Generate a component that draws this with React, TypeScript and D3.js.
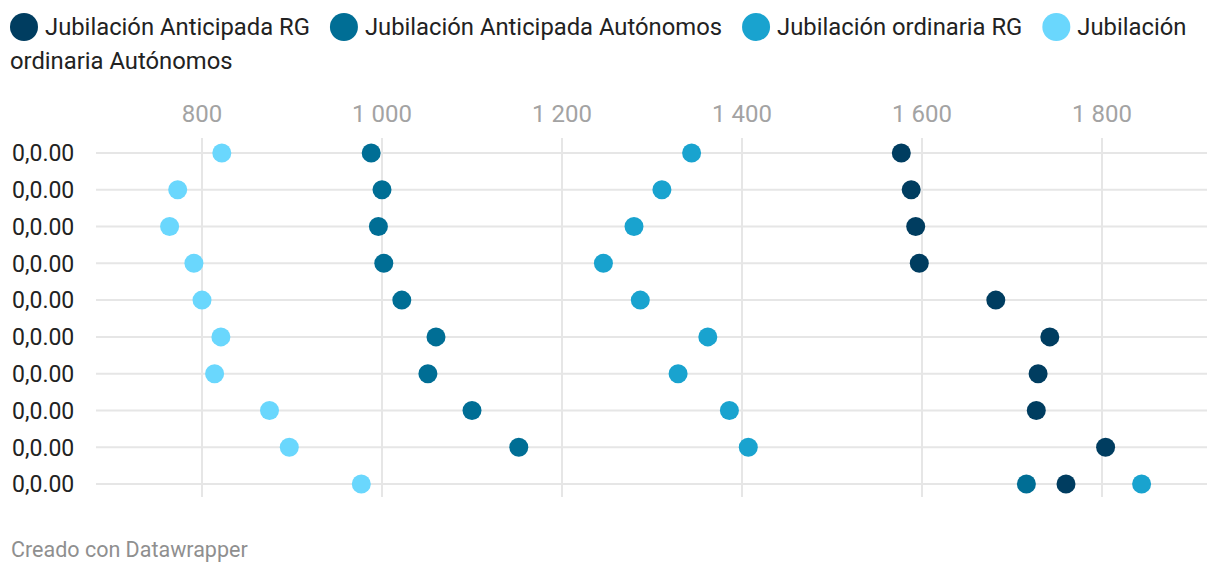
import React, { useEffect, useRef } from 'react'
import * as d3 from 'd3'

// series names and colours
const seriesNames = [
  'Jubilación Anticipada RG',
  'Jubilación Anticipada Autónomos',
  'Jubilación ordinaria RG',
  'Jubilación ordinaria Autónomos',
]
const seriesColors = ['#003d60', '#006e95', '#19a3cf', '#6ad7fd']

// row labels (all the same in the source)
const rowLabels = [
  '0,0.00', '0,0.00', '0,0.00', '0,0.00', '0,0.00',
  '0,0.00', '0,0.00', '0,0.00', '0,0.00', '0,0.00',
]

const anticipadaRG = [1577, 1588, 1593, 1597, 1682, 1742, 1729, 1727, 1804, 1760]
const anticipadaAut = [988, 1000, 996, 1002, 1022, 1060, 1051, 1100, 1152, 1716]
const ordinariaRG = [1344, 1311, 1280, 1246, 1287, 1362, 1329, 1386, 1407, 1844]
const ordinariaAut = [822, 773, 764, 791, 800, 821, 814, 875, 897, 977]

const tickValues = [800, 1000, 1200, 1400, 1600, 1800]

const W = 1220
const H = 576
const FONT = 'Roboto, sans-serif'

function draw(node: SVGSVGElement) {
  const svg = d3.select(node)
  svg.selectAll('*').remove()

  const series = [anticipadaRG, anticipadaAut, ordinariaRG, ordinariaAut]

  // x scale pinned on the gridlines of the reference
  const x = d3.scaleLinear().domain([800, 1800]).range([202, 1102])
  const gridLeft = 96
  const gridRight = 1207

  const y = d3.scalePoint<number>()
    .domain(d3.range(rowLabels.length))
    .range([153, 484])

  const fmt = d3.formatLocale({ decimal: ',', thousands: ' ', grouping: [3], currency: ['', ''] }).format(',d')

  // legend (flowed, wraps words)
  const legendSize = 23.8
  const legend = svg.append('g').attr('class', 'legend')
  let lx = 10
  let lineBase = 35
  const lineH = 34
  const maxX = 1212
  const measure = (s: string) => {
    const t = legend.append('text')
      .attr('font-family', FONT).attr('font-size', legendSize)
      .text(s)
    const wd = (t.node() as SVGTextElement).getComputedTextLength()
    t.remove()
    return wd
  }
  seriesNames.forEach((name, i) => {
    if (lx + 28 > maxX) { lx = 10; lineBase += lineH }
    legend.append('circle')
      .attr('cx', lx + 14).attr('cy', lineBase - 8).attr('r', 14)
      .attr('fill', seriesColors[i])
    lx += 35
    const words = name.split(' ')
    let line = ''
    let startX = lx
    words.forEach((w) => {
      const trial = line ? line + ' ' + w : w
      if (startX + measure(trial) > maxX && line) {
        legend.append('text')
          .attr('x', startX).attr('y', lineBase)
          .attr('font-family', FONT).attr('font-size', legendSize).attr('fill', '#222')
          .text(line)
        lineBase += lineH
        startX = 10
        line = w
      } else {
        line = trial
      }
    })
    legend.append('text')
      .attr('x', startX).attr('y', lineBase)
      .attr('font-family', FONT).attr('font-size', legendSize).attr('fill', '#222')
      .text(line)
    lx = startX + measure(line) + 20
  })

  // vertical gridlines
  svg.append('g')
    .selectAll('line')
    .data(tickValues).enter().append('line')
      .attr('x1', d => x(d)).attr('x2', d => x(d))
      .attr('y1', 138).attr('y2', 497)
      .attr('stroke', '#e6e6e6').attr('stroke-width', 2)

  // tick labels
  svg.append('g')
    .selectAll('text')
    .data(tickValues).enter().append('text')
      .attr('x', d => x(d)).attr('y', 122)
      .attr('text-anchor', 'middle')
      .attr('font-family', FONT).attr('font-size', 24)
      .attr('fill', '#a3a3a3')
      .text(d => fmt(d))

  // horizontal row lines
  svg.append('g')
    .selectAll('line')
    .data(rowLabels).enter().append('line')
      .attr('x1', gridLeft).attr('x2', gridRight)
      .attr('y1', (d, i) => y(i)!).attr('y2', (d, i) => y(i)!)
      .attr('stroke', '#e6e6e6').attr('stroke-width', 2)

  // row labels
  svg.append('g')
    .selectAll('text')
    .data(rowLabels).enter().append('text')
      .attr('x', 12).attr('y', (d, i) => y(i)!)
      .attr('dy', '0.36em')
      .attr('font-family', FONT).attr('font-size', 23)
      .attr('fill', '#222')
      .text(d => d)

  // dots, last series drawn first
  const order = [3, 2, 1, 0]
  order.forEach((s) => {
    svg.append('g')
      .selectAll('circle')
      .data(series[s]).enter().append('circle')
        .attr('cx', d => x(d)).attr('cy', (d, i) => y(i)!)
        .attr('r', 9.5)
        .attr('fill', seriesColors[s])
  })

  svg.append('text')
    .attr('x', 11).attr('y', 557)
    .attr('font-family', FONT).attr('font-size', 21.5)
    .attr('fill', '#8f8f8f')
    .text('Creado con Datawrapper')
}

function App() {
  const ref = useRef<SVGSVGElement>(null)

  useEffect(() => {
    document.body.style.margin = '0'
    const node = ref.current
    if (!node) return
    draw(node)
    // redraw once fonts are ready so the legend measures the right widths
    document.fonts.ready.then(() => draw(node))
  }, [])

  return (
    <svg ref={ref} width={W} height={H} style={{ display: 'block', background: '#fff' }}></svg>
  )
}

export default App
